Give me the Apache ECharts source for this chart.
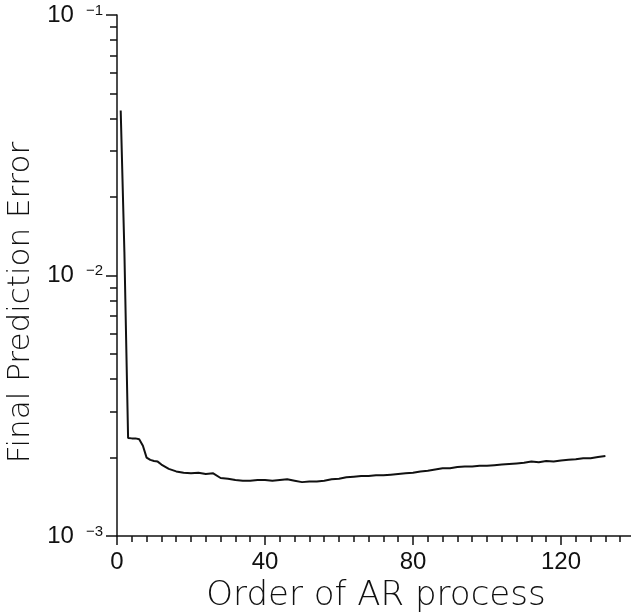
<!DOCTYPE html>
<html>
<head>
<meta charset="utf-8">
<script src="https://cdn.jsdelivr.net/npm/echarts@6/dist/echarts.min.js"></script>
<style>
html,body{margin:0;padding:0;background:#fff;}
#c{width:631px;height:612px;}
</style>
</head>
<body>
<div id="c"></div>
<script>
// Data
var orders = [1,2,3,4,5,6,7,8,9,10,11,12,14,16,18,20,22,24,26,28,30,32,34,36,38,40,42,44,46,48,50,52,54,56,58,60,62,64,66,68,70,72,74,76,78,80,82,84,86,88,90,92,94,96,98,100,102,104,106,108,110,112,114,116,118,120,122,124,126,128,130,132];
var fpe = [0.043,0.0123,0.00238,0.00237,0.00237,0.00235,0.00222,0.00200,0.00196,0.00194,0.00193,0.00188,0.00181,0.00177,0.00175,0.00174,0.00175,0.00173,0.00174,0.00167,0.00166,0.00164,0.00163,0.00163,0.00164,0.00164,0.00163,0.00164,0.00165,0.00163,0.00161,0.00162,0.00162,0.00163,0.00165,0.00166,0.00168,0.00169,0.00170,0.00170,0.00171,0.00171,0.00172,0.00173,0.00174,0.00175,0.00177,0.00178,0.00180,0.00182,0.00182,0.00184,0.00185,0.00185,0.00186,0.00186,0.00187,0.00188,0.00189,0.00190,0.00191,0.00193,0.00192,0.00194,0.00193,0.00195,0.00196,0.00197,0.00199,0.00199,0.00201,0.00203];
var xTickLabels = [0,40,80,120];
var xMinorTicks = [0,4,8,12,16,20,24,28,32,36,40,44,48,52,56,60,64,68,72,76,80,84,88,92,96,100,104,108,112,116,120,124,128,132,136,140];
var yDecades = [0.001,0.01,0.1];
var yDecadeExp = {'0.001':'−3','0.01':'−2','0.1':'−1'};
var yMinorTicks = [0.002,0.003,0.004,0.005,0.006,0.007,0.008,0.009,0.02,0.03,0.04,0.05,0.06,0.07,0.08,0.09];

var pts = orders.map(function(o,i){return [o,fpe[i]];});
var chart = echarts.init(document.getElementById('c'), null, {renderer:'canvas'});
var black = '#111';
var font = 'DejaVu Sans';
chart.setOption({
  animation:false,
  backgroundColor:'#fff',
  grid:{left:117,top:15,bottom:76,right:-4,containLabel:false,outerBoundsMode:'none'},
  xAxis:[{
    type:'value',min:0,max:140,
    name:'Order of AR process',nameLocation:'middle',nameGap:42,
    nameTextStyle:{fontFamily:font,fontSize:34,fontWeight:200,color:black},
    axisLine:{show:true,lineStyle:{color:black,width:1.5}},
    axisTick:{show:true,inside:false,length:6,customValues:xMinorTicks,lineStyle:{color:black,width:1.5}},
    axisLabel:{customValues:xTickLabels,margin:14,fontFamily:'Liberation Sans',fontSize:24,color:black},
    splitLine:{show:false}
  },{
    type:'value',min:0,max:140,position:'bottom',
    axisLine:{show:false},
    axisTick:{show:true,length:9,customValues:xTickLabels,lineStyle:{color:black,width:1.5}},
    axisLabel:{show:false},splitLine:{show:false}
  }],
  yAxis:[{
    type:'log',logBase:10,min:0.001,max:0.1,
    name:'Final Prediction Error',nameLocation:'middle',nameGap:78,
    nameTextStyle:{fontFamily:font,fontSize:31,fontWeight:200,color:black,padding:[0,54,0,0]},
    axisLine:{show:true,lineStyle:{color:black,width:1.5}},
    axisTick:{show:true,length:11,customValues:yDecades,lineStyle:{color:black,width:1.5}},
    axisLabel:{customValues:yDecades,margin:14,
      formatter:function(v){var k=String(+v.toPrecision(3));return '{a|10}{b|'+(yDecadeExp[k]||'')+'}';},
      rich:{a:{fontFamily:'Liberation Sans',fontSize:24,color:black},
            b:{fontFamily:'Liberation Sans',fontSize:15,color:black,verticalAlign:'top',padding:[0,0,0,12]}}},
    splitLine:{show:false}
  },{
    type:'log',logBase:10,min:0.001,max:0.1,position:'left',
    axisLine:{show:false},
    axisTick:{show:true,length:7,customValues:yMinorTicks,lineStyle:{color:black,width:1.5}},
    axisLabel:{show:false},splitLine:{show:false}
  }],
  series:[{
    type:'line',data:pts,showSymbol:false,xAxisIndex:0,yAxisIndex:0,
    lineStyle:{color:black,width:2},clip:true
  }]
});
</script>
</body>
</html>
